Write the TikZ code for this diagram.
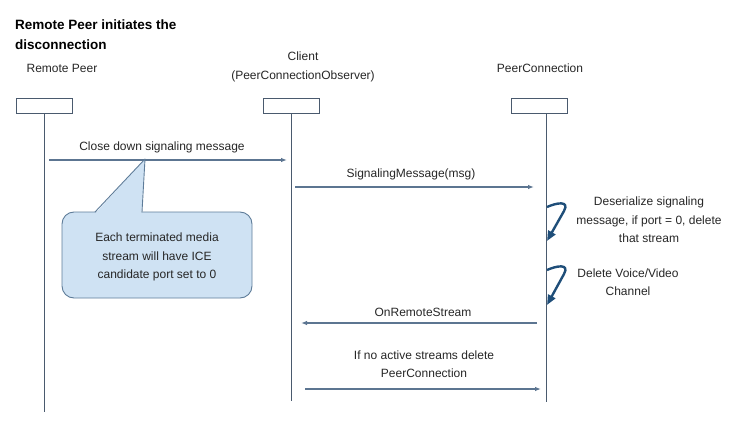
\documentclass[tikz,border=0pt]{standalone}
\usepackage{fontspec}
\setmainfont{Liberation Sans}
\usetikzlibrary{arrows.meta}
\definecolor{lifec}{HTML}{4A5A6E}
\definecolor{msgc}{HTML}{5C7591}
\definecolor{loopc}{HTML}{1F4E79}
\definecolor{callfill}{HTML}{CFE2F3}
\definecolor{callline}{HTML}{5E7C99}
\tikzset{
  headbox/.style={draw=lifec, line width=0.9pt, fill=white, minimum width=56pt, minimum height=15pt, inner sep=0pt},
  lifeline/.style={draw=lifec, line width=0.9pt},
  msg/.style={draw=msgc, line width=1.1pt, -{Latex[length=6pt,width=4.5pt]}},
  selfloop/.style={draw=loopc, line width=2.4pt, line join=round, -{Triangle[length=10pt,width=8pt]}},
  lbl/.style={font=\fontsize{12}{18.5}\selectfont, align=center, inner sep=0pt, text=black!85},
  ttl/.style={font=\fontsize{13.5}{20}\selectfont\bfseries, align=left, inner sep=0pt, anchor=west},
}
\begin{document}
\begin{tikzpicture}[x=1pt,y=-1pt]
\useasboundingbox (0,0) rectangle (752,444);
% title
\node[ttl] (title1) at (15,25) {Remote Peer initiates the};
\node[ttl] (title2) at (15,45) {disconnection};
% participants
\node[lbl] (rpname) at (62,68) {Remote Peer};
\node[lbl] (clname) at (303,67) {Client\\(PeerConnectionObserver)};
\node[lbl] (pcname) at (540,68) {PeerConnection};
\node[headbox] (rp) at (44,106) {};
\node[headbox] (cl) at (291,106) {};
\node[headbox] (pc) at (539,106) {};
\coordinate (rpend) at (44,412);
\coordinate (clend) at (291,401);
\coordinate (pcend) at (546,402);
\draw[lifeline] (rp.south) -- (rpend);
\draw[lifeline] (cl.south) -- (clend);
\draw[lifeline] (pc.south -| pcend) -- (pcend);
% messages
\coordinate (m1a) at (49,160); \coordinate (m1b) at (287,160);
\draw[msg] (m1a) -- (m1b);
\node[lbl] (m1l) at (162,147) {Close down signaling message};
\coordinate (m2a) at (295,187); \coordinate (m2b) at (534,187);
\draw[msg] (m2a) -- (m2b);
\node[lbl] (m2l) at (411,174) {SignalingMessage(msg)};
% self loops
\coordinate (s1a) at (547,207); \coordinate (s1b) at (547,241);
\draw[selfloop] (s1a) .. controls (556,203) and (570,200) .. (564,211) -- (s1b);
\node[lbl] (s1l) at (649,220) {Deserialize signaling\\message, if port = 0, delete\\that stream};
\coordinate (s2a) at (547,270); \coordinate (s2b) at (547,305);
\draw[selfloop] (s2a) .. controls (556,266) and (570,263) .. (564,274) -- (s2b);
\node[lbl] (s2l) at (628,282) {Delete Voice/Video\\Channel};
% OnRemoteStream
\coordinate (m3a) at (537,323); \coordinate (m3b) at (301,323);
\draw[msg] (m3a) -- (m3b);
\node[lbl] (m3l) at (423,312) {OnRemoteStream};
\coordinate (m4a) at (305,389); \coordinate (m4b) at (541,389);
\draw[msg] (m4a) -- (m4b);
\node[lbl] (m4l) at (424,364) {If no active streams delete\\PeerConnection};
% callout
\coordinate (tip) at (145,159);
\filldraw[draw=callline, fill=callfill, line width=0.9pt, rounded corners=12pt] (62,212) rectangle (252,298);
\fill[callfill] (95.6,213) -- (tip) -- (141.4,213) -- cycle;
\draw[callline, line width=0.9pt, line join=round] (95,212) -- (tip) -- (142,212);
\node[lbl] (calltext) at (157,257) {Each terminated media\\stream will have ICE\\candidate port set to 0};
\end{tikzpicture}
\end{document}
